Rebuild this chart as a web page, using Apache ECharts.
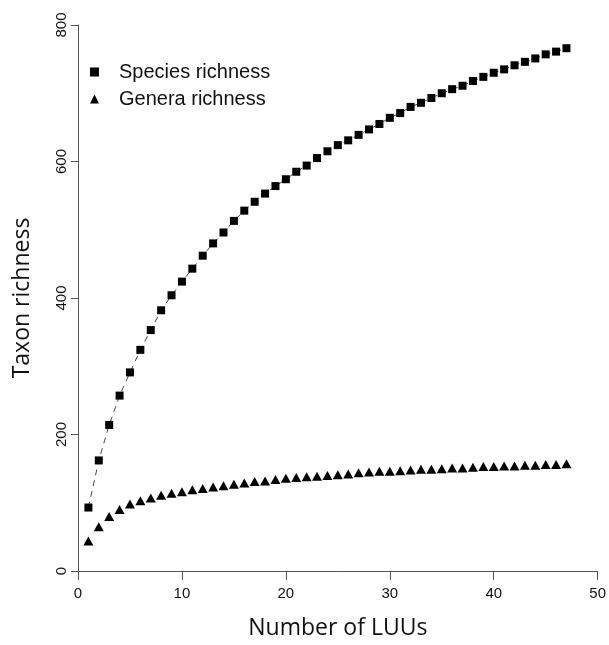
<!DOCTYPE html>
<html>
<head>
<meta charset="utf-8">
<script src="https://cdn.jsdelivr.net/npm/echarts@6/dist/echarts.min.js"></script>
<style>
  html, body { margin: 0; padding: 0; background: #fff; }
  #root { width: 609px; height: 645px; }
</style>
</head>
<body>
<div id="root"></div>
<script>
// number of LUUs sampled
const luus = [1, 2, 3, 4, 5, 6, 7, 8, 9, 10, 11, 12, 13, 14, 15, 16, 17, 18, 19, 20,
  21, 22, 23, 24, 25, 26, 27, 28, 29, 30, 31, 32, 33, 34, 35, 36, 37, 38, 39, 40,
  41, 42, 43, 44, 45, 46, 47]

const speciesRichness = [93, 162, 214, 257, 291, 324, 353, 382, 404, 424,
  443, 462, 480, 496, 513, 528, 541, 553, 564, 574,
  585, 594, 605, 615, 624, 631, 639, 647, 655, 664,
  671, 680, 686, 693, 700, 706, 711, 718, 724, 730,
  735, 741, 746, 751, 757, 761, 766]

const generaRichness = [44, 65, 80, 90, 98, 103, 107, 111, 114, 116,
  119, 121, 123, 125, 127, 129, 131, 132, 134, 136,
  137, 138, 139, 140, 141, 142, 144, 145, 146, 146,
  147, 148, 149, 149, 150, 151, 151, 152, 153, 153,
  154, 154, 155, 155, 156, 156, 157]

const xTicks = [0, 10, 20, 30, 40, 50]
const yTicks = [0, 200, 400, 600, 800]

const chart = echarts.init(document.getElementById('root'))

const axisColor = '#555'
const tickFont = { fontFamily: 'Liberation Sans', fontSize: 15, color: '#111' }
const titleFont = { fontFamily: 'Open Sans', fontSize: 23, color: '#111' }

const option = {
  animation: false,
  grid: { left: 78, right: 9, top: 25, bottom: 72 },
  xAxis: {
    type: 'value',
    min: xTicks[0],
    max: xTicks[xTicks.length - 1],
    interval: 10,
    name: 'Number of LUUs',
    nameLocation: 'middle',
    nameGap: 46,
    nameTextStyle: titleFont,
    axisLine: { lineStyle: { color: axisColor, width: 1 } },
    axisTick: { length: 9, lineStyle: { color: axisColor } },
    axisLabel: Object.assign({ margin: 15 }, tickFont),
    splitLine: { show: false }
  },
  yAxis: {
    type: 'value',
    min: yTicks[0],
    max: yTicks[yTicks.length - 1],
    interval: 200,
    name: 'Taxon richness',
    nameLocation: 'middle',
    nameGap: 44,
    nameTextStyle: titleFont,
    axisLine: { show: true, lineStyle: { color: axisColor, width: 1 } },
    axisTick: { show: true, length: 7, lineStyle: { color: axisColor } },
    axisLabel: Object.assign({ rotate: 90, margin: 9 }, tickFont),
    splitLine: { show: false }
  },
  legend: {
    orient: 'vertical',
    left: 90,
    top: 62,
    padding: 0,
    itemGap: 7,
    itemWidth: 9,
    itemHeight: 9,
    textStyle: { fontFamily: 'Liberation Sans', fontSize: 20, color: '#111', padding: [0, 0, 0, 15] },
    data: [
      { name: 'Species richness', icon: 'rect' },
      { name: 'Genera richness', icon: 'triangle' }
    ]
  },
  series: [
    {
      name: 'Species richness',
      type: 'line',
      data: luus.map((x, i) => [x, speciesRichness[i]]),
      symbol: 'rect',
      symbolSize: 8,
      itemStyle: { color: '#000', opacity: 1 },
      lineStyle: { color: '#444', width: 1, type: [6, 5] }
    },
    {
      name: 'Genera richness',
      type: 'scatter',
      data: luus.map((x, i) => [x, generaRichness[i]]),
      symbol: 'triangle',
      symbolSize: [10, 9],
      itemStyle: { color: '#000', opacity: 1 }
    }
  ]
}

chart.setOption(option)
</script>
</body>
</html>
